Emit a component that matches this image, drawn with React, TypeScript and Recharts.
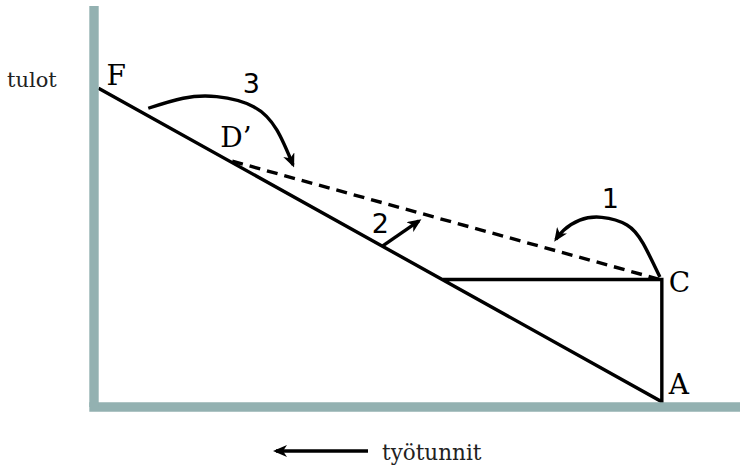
import { ComposedChart, Line, XAxis, YAxis, Label } from 'recharts';

// drawing units: x = hours (0..100), y = income (0..100)
type Pt = [number, number];

const budgetLine: Pt[] = [
  [0.7, 79.5],
  [87.9, 1.3],
  [87.9, 31.8],
  [54, 31.8],
];
const budgetNames = ['F', 'A', 'C'];

const newBudget: Pt[] = [
  [21.4, 61.3],
  [87.6, 31.8],
];
const newBudgetNames = ['D’'];

const arrowOne: Pt[] = [
  [87.6, 32.4],
  [85.0, 40.8],
  [82.5, 45.4],
  [78.6, 47.3],
  [75.2, 46.6],
  [72.7, 44.1],
  [71.5, 41.8],
];
const arrowTwo: Pt[] = [
  [44.7, 40.2],
  [50.3, 46.4],
];
const arrowThree: Pt[] = [
  [8.4, 74.5],
  [13.8, 77.0],
  [19.0, 77.4],
  [24.7, 74.9],
  [28.3, 69.1],
  [30.8, 60.4],
];
const arrowLabels = ['1', '2', '3'];

const axisLabels = { y: 'tulot', x: 'työtunnit' };

const AXIS_COLOR = '#93b1b1';
const INK = '#000';
const SERIF = '"DejaVu Serif", serif';
const SANS = '"DejaVu Sans", sans-serif';
const STROKE = 3.4;

// where each text sits relative to its anchor point (pixels)
const POINT_OFFSET: Record<string, [number, number]> = {
  F: [8, -3],
  A: [7, -8],
  C: [7, 13],
  'D’': [-12, -14],
};

const toRows = (pts: Pt[]) => pts.map(([x, y]) => ({ x, y }));

function pointLabels(names: string[]) {
  return (props: any) => {
    const { cx, cy, index } = props;
    const name = names[index];
    if (!name) return <g key={`n-${index}`} />;
    const [dx, dy] = POINT_OFFSET[name];
    return (
      <text key={`n-${index}`} x={cx + dx} y={cy + dy} fontFamily={SERIF} fontSize={28} fill={INK}>
        {name}
      </text>
    );
  };
}

function arrowLabel(text: string, at: number, dx: number, dy: number) {
  return (props: any) => {
    const { cx, cy, index } = props;
    if (index !== at) return <g key={`a-${index}`} />;
    return (
      <text key={`a-${index}`} x={cx + dx} y={cy + dy} fontFamily={SANS} fontSize={27} fill={INK}>
        {text}
      </text>
    );
  };
}

function YLabel(props: any) {
  const { x, y } = props.viewBox;
  return (
    <text x={x - 86} y={y + 81} fontFamily={SERIF} fontSize={21} fill="#222">
      {axisLabels.y}
    </text>
  );
}

function XLabel(props: any) {
  const { x, y } = props.viewBox;
  return (
    <g>
      <line
        x1={x + 274}
        y1={y + 44}
        x2={x + 182}
        y2={y + 44}
        stroke={INK}
        strokeWidth={STROKE}
        markerEnd="url(#arrowHead)"
      />
      <text x={x + 288} y={y + 53} fontFamily={SERIF} fontSize={21.5} fill="#222">
        {axisLabels.x}
      </text>
    </g>
  );
}

export default function App() {
  return (
    <div style={{ width: 740, height: 466, background: '#fff' }}>
      <style>{'body{margin:0}'}</style>
      <svg width={0} height={0} style={{ position: 'absolute' }}>
        <defs>
          <marker
            id="arrowHead"
            viewBox="0 0 14 12"
            refX={11}
            refY={6}
            markerWidth={14}
            markerHeight={12}
            orient="auto"
            markerUnits="userSpaceOnUse"
          >
            <path d="M0,0 L14,6 L0,12 L4,6 Z" fill={INK} />
          </marker>
        </defs>
      </svg>
      <ComposedChart width={740} height={466} margin={{ top: 6, right: 0, bottom: 58, left: 93 }}>
        <XAxis
          type="number"
          dataKey="x"
          domain={[0, 100]}
          allowDataOverflow
          height={1}
          tick={false}
          tickLine={false}
          axisLine={{ stroke: AXIS_COLOR, strokeWidth: 9.4, strokeLinecap: 'square' }}
          label={<Label content={XLabel} />}
        />
        <YAxis
          type="number"
          dataKey="y"
          domain={[0, 100]}
          allowDataOverflow
          width={1}
          tick={false}
          tickLine={false}
          axisLine={{ stroke: AXIS_COLOR, strokeWidth: 9.4 }}
          label={<Label content={YLabel} />}
        />
        <Line
          data={toRows(budgetLine)}
          dataKey="y"
          type="linear"
          stroke={INK}
          strokeWidth={STROKE}
          strokeLinejoin="miter"
          dot={pointLabels(budgetNames)}
          activeDot={false}
          isAnimationActive={false}
        />
        <Line
          data={toRows(newBudget)}
          dataKey="y"
          type="linear"
          stroke={INK}
          strokeWidth={STROKE}
          strokeDasharray="11 7"
          dot={pointLabels(newBudgetNames)}
          activeDot={false}
          isAnimationActive={false}
        />
        <Line
          data={toRows(arrowOne)}
          dataKey="y"
          type="natural"
          stroke={INK}
          strokeWidth={STROKE}
          markerEnd="url(#arrowHead)"
          dot={arrowLabel(arrowLabels[0], 3, 0, -9)}
          activeDot={false}
          isAnimationActive={false}
        />
        <Line
          data={toRows(arrowTwo)}
          dataKey="y"
          type="linear"
          stroke={INK}
          strokeWidth={STROKE}
          markerEnd="url(#arrowHead)"
          dot={arrowLabel(arrowLabels[1], 0, -11, -13)}
          activeDot={false}
          isAnimationActive={false}
        />
        <Line
          data={toRows(arrowThree)}
          dataKey="y"
          type="natural"
          stroke={INK}
          strokeWidth={STROKE}
          markerEnd="url(#arrowHead)"
          dot={arrowLabel(arrowLabels[2], 2, 26, -4)}
          activeDot={false}
          isAnimationActive={false}
        />
      </ComposedChart>
    </div>
  );
}
